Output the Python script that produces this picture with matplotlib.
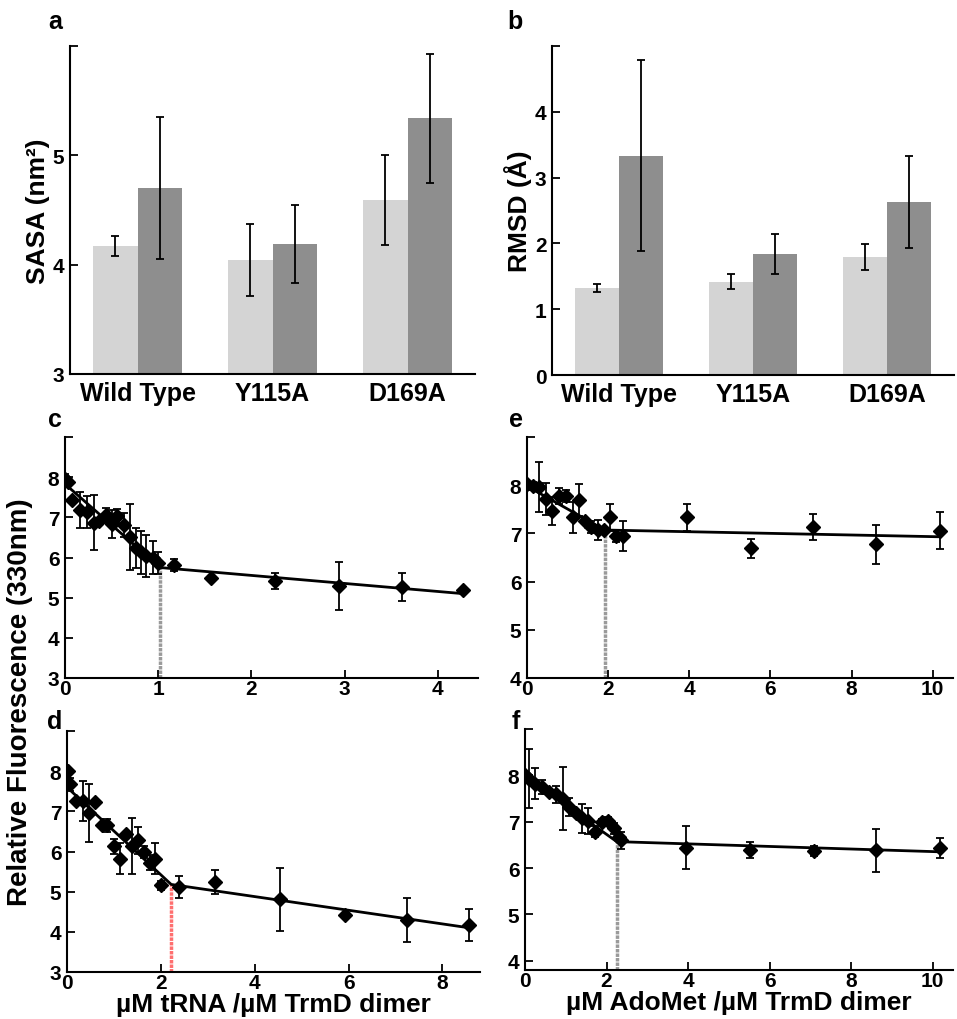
import numpy as np
import matplotlib
matplotlib.use("Agg")
import matplotlib.pyplot as plt

plt.rcParams['font.family'] = ['Liberation Sans', 'DejaVu Sans']
plt.rcParams['font.weight'] = 'bold'

# bar data (panels a, b)
groups = ['Wild Type', 'Y115A', 'D169A']
sasa_light = [4.17, 4.04, 4.59]
sasa_light_err = [0.09, 0.33, 0.41]
sasa_dark = [4.70, 4.19, 5.34]
sasa_dark_err = [0.65, 0.36, 0.59]
rmsd_light = [1.32, 1.42, 1.79]
rmsd_light_err = [0.06, 0.12, 0.20]
rmsd_dark = [3.33, 1.84, 2.63]
rmsd_dark_err = [1.45, 0.31, 0.70]

# titration data (panels c-f)
c_x = [0.0, 0.03, 0.08, 0.16, 0.24, 0.31, 0.37, 0.44, 0.50, 0.56, 0.63, 0.70, 0.76, 0.82, 0.87, 0.94, 1.00, 1.17, 1.57, 2.25, 2.94, 3.61, 4.27]
c_y = [7.95, 7.88, 7.43, 7.19, 7.14, 6.87, 6.91, 7.05, 6.83, 7.04, 6.81, 6.50, 6.23, 6.13, 6.04, 6.00, 5.86, 5.81, 5.49, 5.42, 5.30, 5.26, 5.20]
c_err = [0.12, 0.05, 0.05, 0.45, 0.40, 0.68, 0.05, 0.18, 0.35, 0.17, 0.30, 0.82, 0.50, 0.54, 0.52, 0.40, 0.28, 0.15, 0.05, 0.20, 0.60, 0.35, 0.05]
c_fit_x = [0, 1.02, 4.27]
c_fit_y = [7.83, 5.75, 5.10]

d_x = [0.03, 0.06, 0.19, 0.34, 0.47, 0.60, 0.74, 0.86, 1.00, 1.13, 1.25, 1.38, 1.52, 1.65, 1.77, 1.88, 2.01, 2.39, 3.16, 4.54, 5.92, 7.24, 8.57]
d_y = [8.0, 7.67, 7.25, 7.25, 6.95, 7.23, 6.67, 6.65, 6.13, 5.82, 6.44, 6.13, 6.28, 5.99, 5.72, 5.82, 5.16, 5.11, 5.24, 4.81, 4.41, 4.29, 4.17]
d_err = [0.05, 0.17, 0.05, 0.50, 0.72, 0.05, 0.05, 0.17, 0.18, 0.38, 0.05, 0.70, 0.34, 0.14, 0.19, 0.38, 0.11, 0.28, 0.31, 0.78, 0.07, 0.55, 0.39]
d_fit_x = [0, 2.22, 8.57]
d_fit_y = [7.60, 5.18, 4.10]

e_x = [0.0, 0.14, 0.29, 0.47, 0.62, 0.80, 0.95, 1.13, 1.27, 1.42, 1.58, 1.75, 1.91, 2.05, 2.20, 2.36, 3.94, 5.51, 7.04, 8.60, 10.17]
e_y = [8.02, 7.98, 7.96, 7.71, 7.47, 7.78, 7.78, 7.33, 7.69, 7.26, 7.13, 7.07, 7.07, 7.33, 6.95, 6.95, 7.33, 6.69, 7.13, 6.77, 7.06]
e_err = [0.03, 0.08, 0.52, 0.33, 0.29, 0.17, 0.13, 0.32, 0.33, 0.05, 0.12, 0.20, 0.05, 0.28, 0.12, 0.31, 0.28, 0.20, 0.27, 0.41, 0.39]
e_fit_x = [0, 1.92, 10.17]
e_fit_y = [7.98, 7.07, 6.93]

f_x = [0.0, 0.09, 0.25, 0.42, 0.59, 0.75, 0.94, 1.08, 1.24, 1.41, 1.55, 1.71, 1.88, 2.04, 2.19, 2.31, 2.36, 3.96, 5.52, 7.09, 8.61, 10.18]
f_y = [8.0, 7.93, 7.82, 7.75, 7.64, 7.59, 7.50, 7.32, 7.18, 7.07, 7.02, 6.78, 7.0, 7.02, 6.86, 6.68, 6.60, 6.44, 6.39, 6.37, 6.38, 6.43]
f_err = [0.05, 0.64, 0.34, 0.15, 0.05, 0.18, 0.68, 0.20, 0.05, 0.32, 0.28, 0.12, 0.05, 0.08, 0.12, 0.05, 0.18, 0.47, 0.18, 0.10, 0.46, 0.21]
f_fit_x = [0, 2.25, 10.18]
f_fit_y = [7.98, 6.57, 6.35]

W, H = 957, 1020
fig = plt.figure(figsize=(W / 100, H / 100), dpi=100)


def make_axes(left, right, top, bottom):
    return fig.add_axes([left / W, 1 - bottom / H, (right - left) / W, (bottom - top) / H])


def style(ax, yticks, ymax):
    for s in ['top', 'right']:
        ax.spines[s].set_visible(False)
    for s in ['left', 'bottom']:
        ax.spines[s].set_linewidth(1.5)
    ax.tick_params(direction='in', length=6, width=1.3, labelsize=15)
    ax.tick_params(axis='y', pad=4)
    ax.tick_params(axis='x', pad=1)
    ax.set_yticks(list(yticks) + [ymax])
    ax.set_yticklabels([str(t) for t in yticks] + [''])
    for lab in ax.get_xticklabels() + ax.get_yticklabels():
        lab.set_fontweight('bold')


def bar_panel(ax, light, light_err, dark, dark_err, ylim, yticks, ylabel):
    x = np.arange(len(groups))
    w = 0.33
    ax.bar(x - w / 2, light, w, color='#d4d4d4', zorder=1)
    ax.bar(x + w / 2, dark, w, color='#8e8e8e', zorder=1)
    ax.errorbar(x - w / 2, light, yerr=light_err, fmt='none', ecolor='black', elinewidth=1.3, capsize=3, capthick=1.3, zorder=2)
    ax.errorbar(x + w / 2, dark, yerr=dark_err, fmt='none', ecolor='black', elinewidth=1.3, capsize=3, capthick=1.3, zorder=2)
    ax.set_xlim(-0.5, 2.5)
    ax.set_ylim(*ylim)
    style(ax, yticks, ylim[1])
    ax.set_xticks(x)
    ax.set_xticklabels(groups, fontsize=18, fontweight='bold')
    ax.tick_params(axis='x', length=0, pad=5)
    ax.set_ylabel(ylabel, fontsize=19, fontweight='bold', labelpad=2)


def titration_panel(ax, xs, ys, errs, fit_x, fit_y, xlim, ylim, xticks, yticks, vcolor):
    ax.errorbar(xs, ys, yerr=errs, fmt='none', ecolor='black', elinewidth=1.3, capsize=3, capthick=1.3, zorder=2)
    ax.plot(xs, ys, 'D', color='black', markersize=7, zorder=3)
    ax.plot(fit_x, fit_y, color='black', lw=2, zorder=4)
    ax.vlines(fit_x[1], ylim[0], fit_y[1], colors=vcolor, lw=2.5, linestyles=(0, (1, 0.3)), zorder=1)
    ax.set_xlim(*xlim)
    ax.set_ylim(*ylim)
    ax.set_xticks(xticks)
    style(ax, yticks, ylim[1])


ax_a = make_axes(70, 475, 47, 375)
bar_panel(ax_a, sasa_light, sasa_light_err, sasa_dark, sasa_dark_err, (3, 6), [3, 4, 5], 'SASA (nm²)')

ax_b = make_axes(552, 954, 47, 376)
bar_panel(ax_b, rmsd_light, rmsd_light_err, rmsd_dark, rmsd_dark_err, (0, 5), [0, 1, 2, 3, 4], 'RMSD (Å)')

ax_c = make_axes(65, 478, 438, 679)
titration_panel(ax_c, c_x, c_y, c_err, c_fit_x, c_fit_y, (0, 4.43), (3, 9), [0, 1, 2, 3, 4], [3, 4, 5, 6, 7, 8], '#9a9a9a')

ax_e = make_axes(527, 953, 438, 679)
titration_panel(ax_e, e_x, e_y, e_err, e_fit_x, e_fit_y, (0, 10.5), (4, 9), [0, 2, 4, 6, 8, 10], [4, 5, 6, 7, 8], '#9a9a9a')

ax_d = make_axes(67, 480, 732, 973)
titration_panel(ax_d, d_x, d_y, d_err, d_fit_x, d_fit_y, (0, 8.8), (3, 9), [0, 2, 4, 6, 8], [3, 4, 5, 6, 7, 8], '#ff6f6f')
ax_d.set_xlabel('µM tRNA /µM TrmD dimer', fontsize=19, fontweight='bold', labelpad=0)

ax_f = make_axes(525, 953, 730, 971)
titration_panel(ax_f, f_x, f_y, f_err, f_fit_x, f_fit_y, (0, 10.5), (3.8, 9), [0, 2, 4, 6, 8, 10], [4, 5, 6, 7, 8], '#9a9a9a')
ax_f.set_xlabel('µM AdoMet /µM TrmD dimer', fontsize=19, fontweight='bold', labelpad=0)

fig.text(20 / W, 1 - 702 / H, 'Relative Fluorescence (330nm)', rotation=90, fontsize=20,
         fontweight='bold', ha='center', va='center')

for letter, px, py in [('a', 55, 22), ('b', 515, 22), ('c', 55, 420), ('e', 516, 420),
                       ('d', 55, 722), ('f', 516, 722)]:
    fig.text(px / W, 1 - py / H, letter, fontsize=18, fontweight='bold', ha='center', va='center')

fig.savefig('out.png', dpi=100)
